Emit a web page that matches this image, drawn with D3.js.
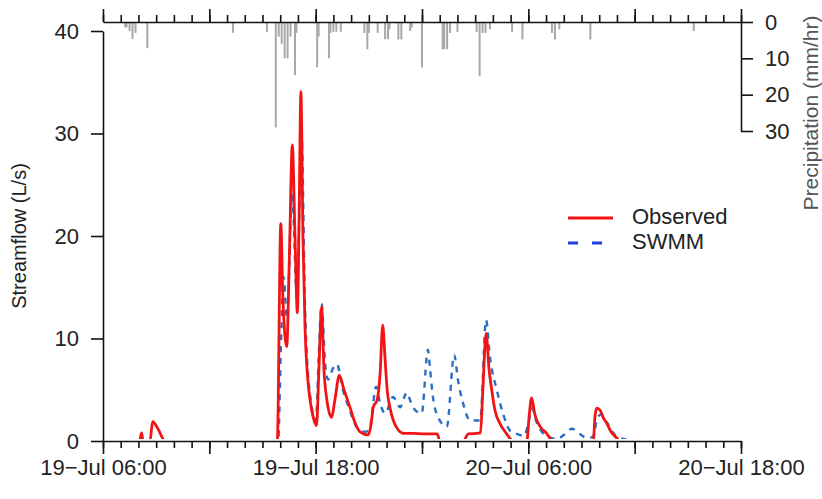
<!DOCTYPE html>
<html>
<head>
<meta charset="utf-8">
<script src="https://cdn.jsdelivr.net/npm/d3@7"></script>
<style>
  body { margin: 0; background: #fff; }
  svg { display: block; font-family: "Liberation Sans", Arial, sans-serif; }
  .axis path, .axis line { stroke: #111; stroke-width: 1.6; }
  .axis text { font-size: 22px; fill: #222; }
</style>
</head>
<body>
<svg id="chart" width="822" height="499"></svg>
<script>
// precipitation (mm/hr), hanging from the top axis
const precipTime = ["19 07:15","19 07:20","19 07:30","19 07:40","19 07:50","19 08:30","19 13:20","19 15:15",
  "19 15:45","19 15:55","19 16:05","19 16:15","19 16:25","19 16:35","19 16:50","19 16:55","19 18:05","19 18:10",
  "19 18:45","19 18:50","19 19:00","19 19:10","19 19:25","19 20:45","19 20:55","19 21:00","19 21:30","19 21:55",
  "19 22:05","19 22:10","19 22:40","19 22:50","19 23:20","19 23:25","20 00:00","20 01:10","20 01:15","20 01:25",
  "20 01:35","20 02:00","20 03:05","20 03:15","20 03:25","20 03:35","20 03:50","20 05:05","20 05:40","20 07:20",
  "20 07:30","20 07:45","20 09:30","20 15:20"];
const precipRate = [1.5,1.5,2.5,4.7,3.0,7.2,3.0,2.7,
  29,4,6,10,10,4,14.6,3,12.5,4,
  10,3,2.7,2.7,2.7,3,7.5,3,3,4.7,
  4.7,2,4.8,4.8,2.5,1.5,12.5,7.5,7.5,7.5,
  3,2.7,2.7,14.9,3,3,2,2.7,4.8,3,
  4.8,2,4.8,2.5];

// observed streamflow (L/s)
const obsTime = ["19 06:00","19 08:03","19 08:11","19 08:15","19 08:39","19 08:48","19 09:06","19 09:30",
  "19 15:50","19 16:02","19 16:09","19 16:22","19 16:31","19 16:41","19 16:50","19 16:58","19 17:04","19 17:10",
  "19 17:17","19 17:24","19 17:32","19 17:41","19 17:51","19 18:03","19 18:11","19 18:20","19 18:28","19 18:38",
  "19 18:54","19 19:05","19 19:20","19 19:36","19 19:56","19 20:13","19 20:30","19 20:58","19 21:07","19 21:15",
  "19 21:28","19 21:38","19 21:47","19 21:55","19 22:02","19 22:12","19 22:23","19 22:39","19 22:57","19 23:29",
  "20 00:10","20 00:51","20 01:01","20 02:20","20 02:37","20 03:05","20 03:18","20 03:26","20 03:37","20 03:47",
  "20 03:56","20 04:07","20 04:24","20 04:44","20 05:09","20 05:55","20 06:03","20 06:11","20 06:22","20 06:40",
  "20 07:00","20 07:25","20 09:40","20 09:46","20 09:52","20 10:03","20 10:13","20 10:26","20 10:40","20 10:59",
  "20 11:11","20 18:00"];
const obsFlow = [0,0,0.8,0,0,1.9,1.2,0,
  0,21.2,14,9.2,18,28.9,20,12.5,22,34.1,
  20,11,6.5,4.0,2.4,1.5,7,13.1,7,4,
  2.3,4,6.4,5,3.3,1.8,0.9,0.6,1.5,3.3,
  4.0,6.5,11.3,8,5,3.2,2.0,1.1,0.75,0.75,
  0.7,0.7,0,0,0.7,0.75,0.8,5,10.5,7,
  5,3,1.7,0.8,0,0,2.5,4.2,2.6,1.4,
  0.8,0,0,2.5,3.2,3.0,2.3,1.7,0.9,0.3,
  0,0];

// SWMM simulated streamflow (L/s)
const swmmTime = ["19 06:00","19 15:53","19 16:03","19 16:11","19 16:23","19 16:40","19 16:57","19 17:12",
  "19 17:24","19 17:41","19 18:01","19 18:10","19 18:20","19 18:32","19 18:42","19 18:59","19 19:12","19 19:32",
  "19 19:53","19 20:23","19 20:50","19 21:04","19 21:25","19 21:38","19 21:55","19 22:22","19 22:46","19 23:08",
  "19 23:29","19 23:59","20 00:20","20 00:27","20 00:37","20 00:55","20 01:24","20 01:49","20 02:02","20 02:19",
  "20 02:43","20 03:17","20 03:37","20 03:50","20 04:13","20 04:34","20 04:58","20 05:21","20 05:46","20 06:02",
  "20 06:13","20 06:26","20 06:56","20 07:37","20 08:01","20 08:28","20 08:49","20 09:19","20 09:39","20 09:53",
  "20 10:06","20 10:26","20 10:53","20 11:28","20 12:01","20 18:00"];
const swmmFlow = [0,0,10,16,12,24,14,30,
  13,4.5,2,8,13.4,7.6,6,7.1,7.5,5,
  3.2,1.2,0.9,1.4,5.3,3.7,2.7,4.3,3.3,4.7,
  3.3,2.7,8.9,7.1,4.3,2.3,1.4,8.4,5.9,3.7,
  2,2,11.8,8.2,5,2.7,1.0,0.7,0.5,2.0,
  3.2,2,0.6,0.2,0.6,1.2,0.8,0.3,0.4,2.2,
  2.6,1.8,0.6,0.15,0,0];

const seriesNames = ["Observed", "SWMM"];
const flowTicks = [0, 10, 20, 30, 40];
const precipTicks = [0, 10, 20, 30];
const timeLabels = ["19 06:00", "19 18:00", "20 06:00", "20 18:00"];
const timeDomain = ["19 06:00", "20 18:00"];

const parseT = s => d3.timeParse("%Y-%m-%d %H:%M")("2013-07-" + s);

const svg = d3.select("#chart");
const plotLeft = 103, plotRight = 741, plotBottom = 441, plotTop = 31;

const x = d3.scaleTime().domain(timeDomain.map(parseT)).range([plotLeft, plotRight]);
const y = d3.scaleLinear().domain([0, 40]).range([plotBottom, plotTop]);
const yp = d3.scaleLinear().domain([0, 30]).range([22, 131]);

const obs = obsTime.map((t, i) => ({ t: parseT(t), v: obsFlow[i] }));
const swmm = swmmTime.map((t, i) => ({ t: parseT(t), v: swmmFlow[i] }));
const rain = precipTime.map((t, i) => ({ t: parseT(t), v: precipRate[i] }));

// hide lines sitting on zero under the x axis
svg.append("clipPath").attr("id", "plotclip")
  .append("rect").attr("x", plotLeft).attr("y", 0)
  .attr("width", plotRight - plotLeft).attr("height", plotBottom - 1.9);

// rain bars
svg.append("g").selectAll("rect")
  .data(rain)
  .enter()
  .append("rect")
  .attr("fill", "#a8a8a8")
  .attr("x", d => x(d.t) - 1)
  .attr("y", yp(0))
  .attr("width", 2)
  .attr("height", d => yp(d.v) - yp(0));

const line = d3.line()
  .x(d => x(d.t))
  .y(d => y(d.v))
  .curve(d3.curveMonotoneX);

svg.append("path")
  .datum(swmm)
  .attr("clip-path", "url(#plotclip)")
  .attr("fill", "none")
  .attr("stroke", "#2a6fc4")
  .attr("stroke-width", 2.4)
  .attr("stroke-dasharray", "6,6")
  .attr("d", line);

svg.append("path")
  .datum(obs)
  .attr("clip-path", "url(#plotclip)")
  .attr("fill", "none")
  .attr("stroke", "#f21414")
  .attr("stroke-width", 2.8)
  .attr("stroke-linejoin", "round")
  .attr("d", line);

// time axes: hourly minor ticks, 6-hourly major ticks, labels every 12 h
const labelSet = new Set(timeLabels.map(s => +parseT(s)));
const fmt = d3.timeFormat("%d\u2212%b %H:%M");
const hours = d3.timeHour.every(1).range(x.domain()[0], d3.timeHour.offset(x.domain()[1], 1));
const majors = hours.filter(d => d.getHours() % 6 === 0);

function timeAxes(axisFn, yPos, withLabels) {
  svg.append("g").attr("class", "axis")
    .attr("transform", "translate(0," + yPos + ")")
    .call(axisFn(x).tickValues(hours).tickSize(7).tickSizeOuter(0).tickFormat(""));
  const g = svg.append("g").attr("class", "axis")
    .attr("transform", "translate(0," + yPos + ")")
    .call(axisFn(x).tickValues(majors).tickSize(13).tickSizeOuter(0)
      .tickPadding(5)
      .tickFormat(d => withLabels && labelSet.has(+d) ? fmt(d) : ""));
  g.select(".domain").remove();
}
timeAxes(d3.axisBottom, plotBottom, true);
timeAxes(d3.axisTop, 22, false);

// streamflow axis
svg.append("g").attr("class", "axis")
  .attr("transform", "translate(" + plotLeft + ",0)")
  .call(d3.axisLeft(y).tickValues(flowTicks).tickSize(12).tickSizeOuter(0).tickPadding(12));

// precipitation axis
svg.append("g").attr("class", "axis")
  .attr("transform", "translate(" + plotRight + ",0)")
  .call(d3.axisRight(yp).tickValues(precipTicks).tickSize(12).tickSizeOuter(0).tickPadding(12));

svg.append("text")
  .attr("transform", "translate(26,236)rotate(-90)")
  .attr("text-anchor", "middle")
  .style("font-size", "20px")
  .attr("fill", "#222")
  .text("Streamflow (L/s)");

svg.append("text")
  .attr("transform", "translate(812,113)rotate(-90)")
  .attr("text-anchor", "middle")
  .attr("dominant-baseline", "middle")
  .style("font-size", "21px")
  .attr("fill", "#555")
  .text("Precipitation (mm/hr)");

// legend
const legend = svg.append("g");
const legendStyle = [
  { color: "#f21414", dash: null },
  { color: "#2040e0", dash: "10,14" }
];
seriesNames.forEach((name, i) => {
  const ly = 218 + i * 25;
  legend.append("line")
    .attr("x1", 568).attr("x2", 613)
    .attr("y1", ly).attr("y2", ly)
    .attr("stroke", legendStyle[i].color)
    .attr("stroke-width", 3)
    .attr("stroke-dasharray", legendStyle[i].dash);
  legend.append("text")
    .attr("x", 632).attr("y", ly)
    .attr("dominant-baseline", "middle")
    .style("font-size", "22px")
    .attr("fill", "#222")
    .text(name);
});
</script>
</body>
</html>
